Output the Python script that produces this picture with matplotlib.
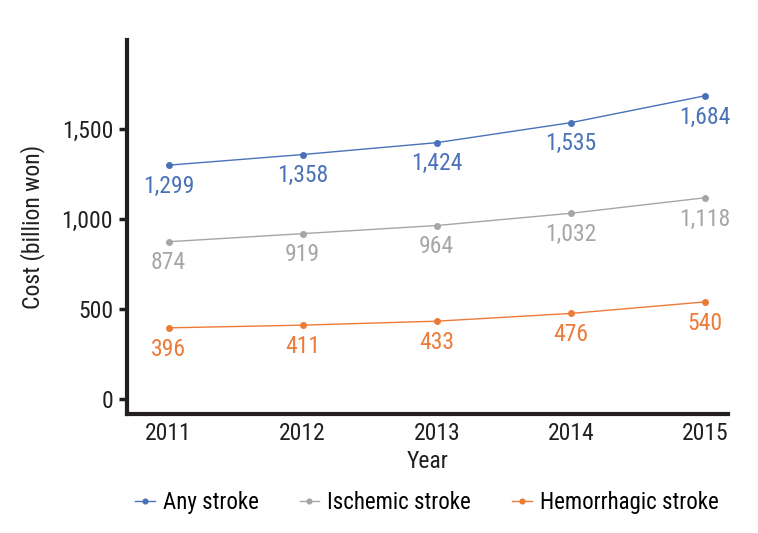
import matplotlib
matplotlib.use("Agg")
import matplotlib.pyplot as plt
from matplotlib import font_manager

# Dati
years = [2011, 2012, 2013, 2014, 2015]
any_stroke = [1299, 1358, 1424, 1535, 1684]
ischemic_stroke = [874, 919, 964, 1032, 1118]
hemorrhagic_stroke = [396, 411, 433, 476, 540]
y_ticks = [0, 500, 1000, 1500]
y_tick_labels = ["0", "500", "1,000", "1,500"]

names = {f.name for f in font_manager.fontManager.ttflist}
fam = "Roboto Condensed" if "Roboto Condensed" in names else "Roboto"
plt.rcParams["font.family"] = [fam, "DejaVu Sans"]

FS = 17
TXT = "#231f20"

fig = plt.figure(figsize=(7.58, 5.33), dpi=100)
ax = fig.add_axes([0.1675, 0.223, 0.7925, 0.702])

series = [
    (any_stroke, "Any stroke", "#4a72b8"),
    (ischemic_stroke, "Ischemic stroke", "#a6a6a6"),
    (hemorrhagic_stroke, "Hemorrhagic stroke", "#ec7b39"),
]

for vals, name, col in series:
    ax.plot(years, vals, color=col, lw=1, marker="o", ms=4, label=name)
    for x, v in zip(years, vals):
        ax.annotate(f"{v:,}", (x, v), xytext=(0, -7), textcoords="offset points",
                    ha="center", va="top", fontsize=FS, color=col)

ax.set_xlim(2010.69, 2015.17)
ax.set_ylim(-83, 1994)
ax.set_xticks(years)
ax.set_xticklabels([str(y) for y in years], fontsize=FS)
ax.set_yticks(y_ticks)
ax.set_yticklabels(y_tick_labels, fontsize=FS)
ax.tick_params(axis="x", length=0, pad=6, colors=TXT)
ax.tick_params(axis="y", length=6, width=2.5, direction="out", pad=4, colors=TXT)

for s in ["top", "right"]:
    ax.spines[s].set_visible(False)
for s in ["left", "bottom"]:
    ax.spines[s].set_linewidth(3)
    ax.spines[s].set_color(TXT)

ax.set_xlabel("Year", fontsize=FS, color=TXT, labelpad=3)
ax.set_ylabel("Cost (billion won)", fontsize=FS, color=TXT, labelpad=12)

fig.legend(loc="center", bbox_to_anchor=(0.563, 0.058), ncol=3, frameon=False,
           fontsize=16.5, handlelength=0.85, columnspacing=1.8, handletextpad=0.35,
           borderpad=0, markerscale=0.85)

fig.savefig("out.png", dpi=100)
